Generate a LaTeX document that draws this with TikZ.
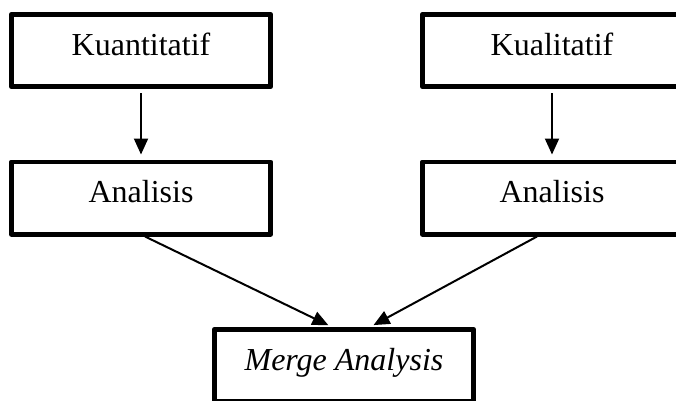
\documentclass[tikz,border=0pt]{standalone}
\usepackage{fontspec}
\setmainfont{Liberation Serif}
\usetikzlibrary{arrows.meta}

\tikzset{
  box/.style={draw, line width=4.6pt, line join=round, minimum width=259.4pt, minimum height=72.4pt,
    inner sep=0pt, font=\fontsize{32}{38}\selectfont, text height=22pt, text depth=13pt},
  flow/.style={line width=2pt, -{Triangle[length=16pt,width=14pt]}}
}

\begin{document}
\begin{tikzpicture}[x=1pt,y=-1pt]

    \useasboundingbox (0,0) rectangle (676,400);
    \clip (0,0) rectangle (676,400);

    % Data sources
    \node[box] (kuan) at (141,50.5) {Kuantitatif};
    \node[box] (kual) at (552,50.5) {Kualitatif};

    % Separate analyses
    \node[box] (anaL) at (141,198) {Analisis};
    \node[box] (anaR) at (552,198) {Analisis};

    % Combined result
    \node[box] (merge) at (344,365.5) {\itshape Merge Analysis};

    \draw[flow, shorten <=4pt, shorten >=5pt] (kuan) -- (anaL);
    \draw[flow, shorten <=4pt, shorten >=5pt] (kual) -- (anaR);

    \draw[flow, shorten >=4pt] ([xshift=4pt]anaL.south) -- ([xshift=-12pt]merge.north);
    \draw[flow, shorten >=4pt] ([xshift=-15pt]anaR.south) -- ([xshift=26pt]merge.north);

\end{tikzpicture}
\end{document}
